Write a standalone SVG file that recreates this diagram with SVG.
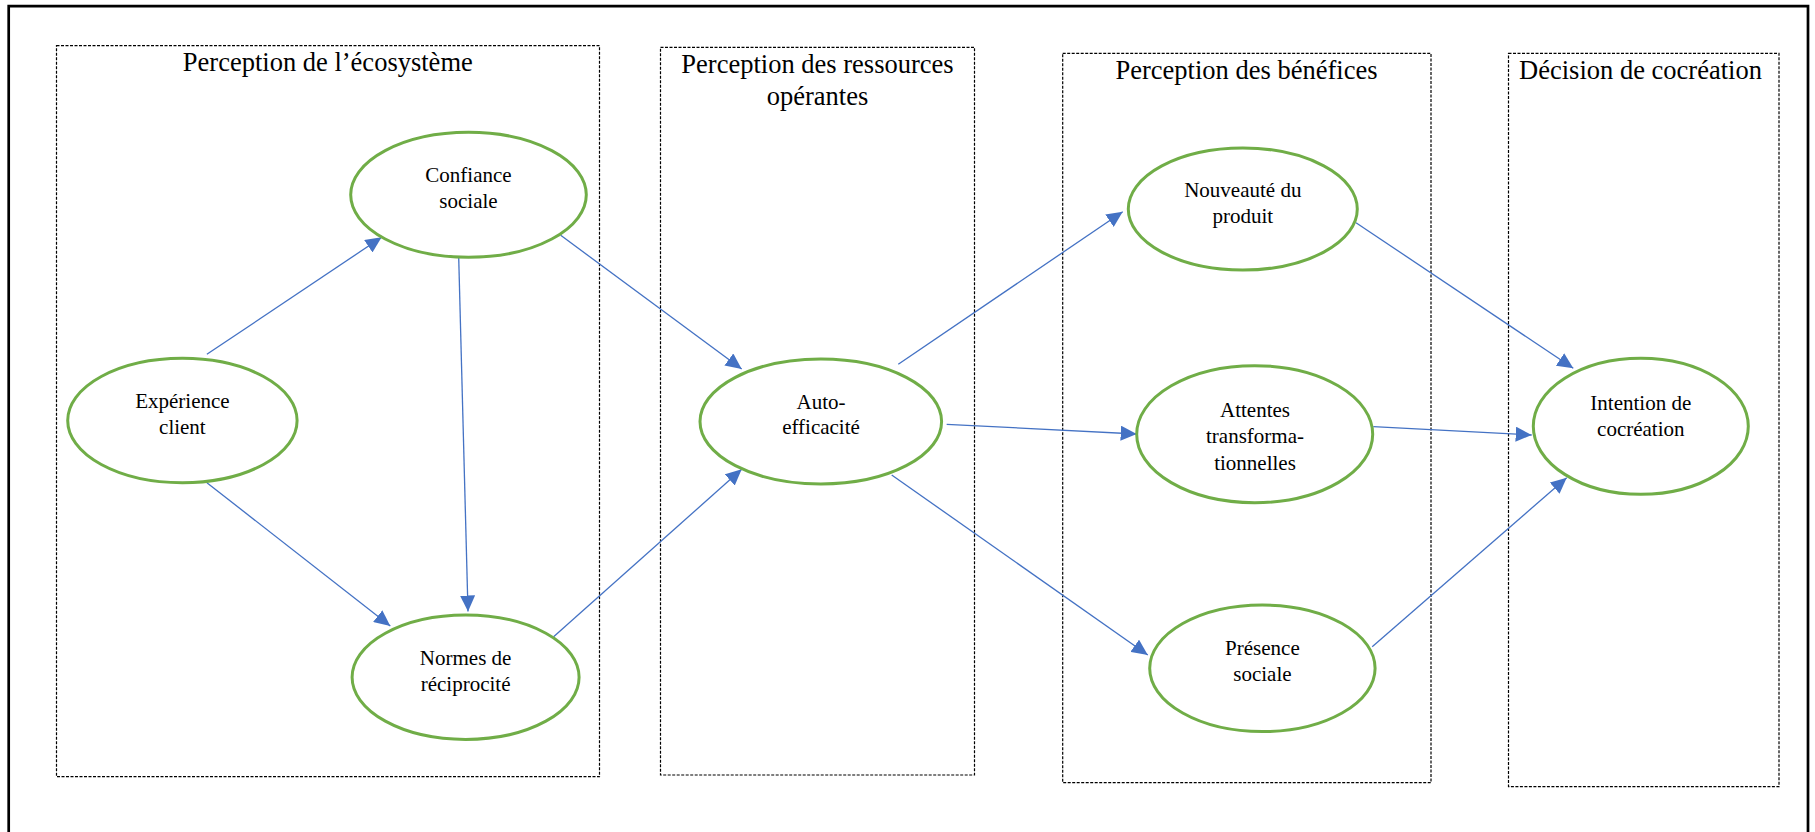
<svg xmlns="http://www.w3.org/2000/svg" width="1815" height="832" viewBox="0 0 1815 832">
  <style>
    .frame { fill: none; stroke: #000; stroke-width: 2.7; }
    .zone { fill: none; stroke: #000; stroke-width: 1.2; stroke-dasharray: 3 1.5; }
    .zone-title { font-family: "Liberation Serif", "Times New Roman", serif; font-size: 26.5px; fill: #000; text-anchor: middle; }
    .node ellipse { fill: #fff; stroke: #70AD47; stroke-width: 3; }
    .node text { font-family: "Liberation Serif", "Times New Roman", serif; font-size: 21px; fill: #000; text-anchor: middle; }
    .link { stroke: #4472C4; stroke-width: 1.3; fill: none; marker-end: url(#arrow); }
  </style>
  <defs>
    <marker id="arrow" markerUnits="userSpaceOnUse" markerWidth="16" markerHeight="15" refX="16" refY="7.5" orient="auto">
      <path d="M0,0 L16,7.5 L0,15 z" fill="#4472C4"/>
    </marker>
  </defs>

  <rect width="1815" height="832" fill="#fff"/>

  <!-- outer frame (open at the bottom) -->
  <path class="frame" d="M8.7,832 V6.2 H1808 V832"/>

  <!-- dashed zones -->
  <g id="zones">
    <rect class="zone" x="56.5" y="45.7" width="543" height="731"/>
    <text class="zone-title" x="327.8" y="70.7">Perception de l’écosystème</text>

    <rect class="zone" x="660.5" y="47.3" width="314" height="727.7"/>
    <text class="zone-title" x="817.5" y="73.3">Perception des ressources</text>
    <text class="zone-title" x="817.5" y="105">opérantes</text>

    <rect class="zone" x="1062.7" y="53.3" width="368.3" height="729.4"/>
    <text class="zone-title" x="1246.5" y="79.3">Perception des bénéfices</text>

    <rect class="zone" x="1508.5" y="53.3" width="270.5" height="733.4"/>
    <text class="zone-title" x="1640.5" y="79.3">Décision de cocréation</text>
  </g>

  <!-- connectors -->
  <g id="connectors">
    <line class="link" x1="206.9" y1="354.3" x2="381.6" y2="237.3"/>
    <line class="link" x1="206.9" y1="482.7" x2="390.3" y2="626"/>
    <line class="link" x1="458.7" y1="257.3" x2="468" y2="611.5"/>
    <line class="link" x1="560.7" y1="235.3" x2="741.7" y2="369"/>
    <line class="link" x1="553.6" y1="636.7" x2="741.7" y2="469.3"/>
    <line class="link" x1="898.3" y1="364.3" x2="1122.7" y2="211.7"/>
    <line class="link" x1="946.7" y1="424.3" x2="1136.7" y2="434"/>
    <line class="link" x1="891.7" y1="475" x2="1147.8" y2="655"/>
    <line class="link" x1="1356" y1="222.7" x2="1573.3" y2="368.3"/>
    <line class="link" x1="1373.3" y1="426.7" x2="1531.7" y2="435"/>
    <line class="link" x1="1372.2" y1="646.7" x2="1566.7" y2="477.7"/>
  </g>

  <!-- nodes -->
  <g id="experience-client" class="node">
    <ellipse cx="182.4" cy="420.5" rx="114.7" ry="62.2"/>
    <text x="182.4" y="408.3">Expérience</text>
    <text x="182.4" y="434">client</text>
  </g>
  <g id="confiance-sociale" class="node">
    <ellipse cx="468.5" cy="194.8" rx="117.8" ry="62.5"/>
    <text x="468.5" y="182.3">Confiance</text>
    <text x="468.5" y="208.3">sociale</text>
  </g>
  <g id="normes-reciprocite" class="node">
    <ellipse cx="465.6" cy="677.2" rx="113.5" ry="62.2"/>
    <text x="465.6" y="665">Normes de</text>
    <text x="465.6" y="690.5">réciprocité</text>
  </g>
  <g id="auto-efficacite" class="node">
    <ellipse cx="820.8" cy="421.5" rx="120.8" ry="62.5"/>
    <text x="821" y="409">Auto-</text>
    <text x="821" y="434.3">efficacité</text>
  </g>
  <g id="nouveaute-produit" class="node">
    <ellipse cx="1242.8" cy="209" rx="114.5" ry="61"/>
    <text x="1242.8" y="196.7">Nouveauté du</text>
    <text x="1242.8" y="223.3">produit</text>
  </g>
  <g id="attentes-transformationnelles" class="node">
    <ellipse cx="1254.7" cy="434.2" rx="118" ry="68.5"/>
    <text x="1255" y="417.3">Attentes</text>
    <text x="1255" y="443.3">transforma-</text>
    <text x="1255" y="470">tionnelles</text>
  </g>
  <g id="presence-sociale" class="node">
    <ellipse cx="1262.4" cy="668.3" rx="112.7" ry="63.3"/>
    <text x="1262.4" y="655">Présence</text>
    <text x="1262.4" y="681">sociale</text>
  </g>
  <g id="intention-cocreation" class="node">
    <ellipse cx="1640.8" cy="426.3" rx="107.5" ry="68"/>
    <text x="1640.8" y="410">Intention de</text>
    <text x="1640.8" y="435.7">cocréation</text>
  </g>
</svg>
